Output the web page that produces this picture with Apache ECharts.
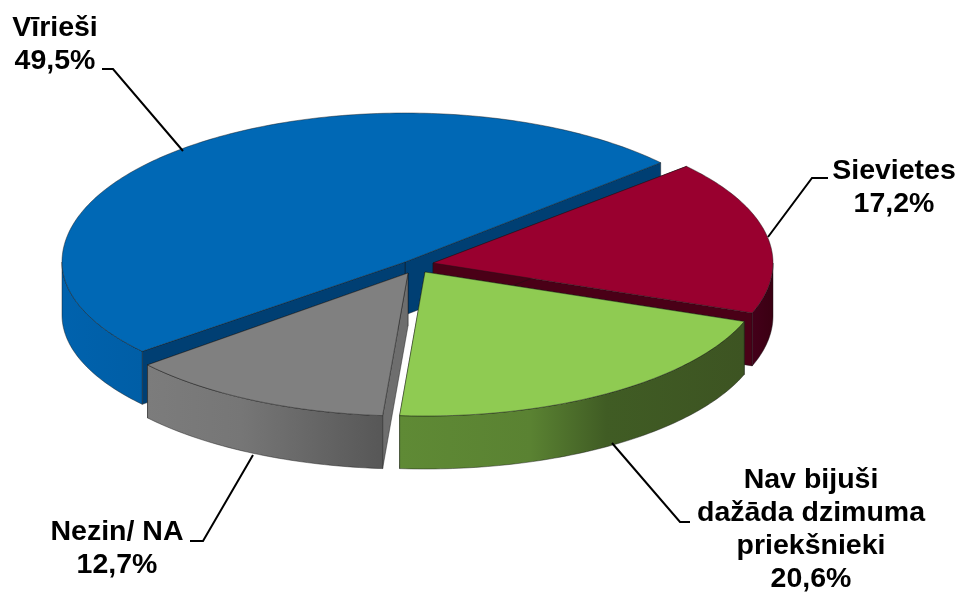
<!DOCTYPE html>
<html><head><meta charset="utf-8">
<style>html,body{margin:0;padding:0;background:#fff}#c{width:965px;height:594px}</style>
<script src="https://cdn.jsdelivr.net/npm/echarts@6/dist/echarts.min.js"></script>
</head><body><div id="c"></div>
<script>
const categories = ['Vīrieši', 'Sievietes', 'Nav bijuši\ndažāda dzimuma\npriekšnieki', 'Nezin/ NA'];
const shares = [49.5, 17.2, 20.6, 12.7];

// Pseudo-3D layout of the pie
const START_DEG = 220;
const DEPTH = 53;
const CENTERS = [[405, 262], [433, 263], [425, 272], [408, 273]];
// [horizontal radius, back vertical radius, front vertical radius]
const RADII = [[343, 149, 139], [340, 145, 145], [340, 144, 144], [340, 143, 143]];
const TOP_COLORS = ['#0068b5', '#99002f', '#8fcb52', '#808080'];
const CUT_COLORS = ['#003f73', '#4a0017', '#5f8a35', '#6e6e6e'];
const WALL_STOPS = [
  [[0, '#0062ad'], [1, '#005ea6']],
  [[0, '#44001a'], [1, '#3a0012']],
  [[0, '#5f8a35'], [0.38, '#5a8232'], [0.6, '#405c24'], [1, '#3d5422']],
  [[0, '#7c7c7c'], [0.4, '#767676'], [1, '#575757']]
];
const LABEL_POS = [[55, 45], [894, 188], [811, 530], [117, 549]];
const LEADERS = [
  [[102, 69], [113, 69], [183, 151]],
  [[828, 178], [812, 178], [768, 237]],
  [[612, 443], [680, 522], [690, 522]],
  [[253, 455], [203, 541], [190, 541]]
];

const EDGE = 'rgba(20,20,20,0.55)';

function arcPoints(i, from, to, dy) {
  const pts = [], c = CENTERS[i], r = RADII[i];
  const n = Math.max(2, Math.ceil(Math.abs(to - from)));
  for (let k = 0; k <= n; k++) {
    const t = (from + (to - from) * k / n) * Math.PI / 180;
    const s = Math.sin(t);
    pts.push([c[0] + r[0] * Math.cos(t), c[1] - (s >= 0 ? r[1] : r[2]) * s + dy]);
  }
  return pts;
}

function sliceAngles(i) {
  const total = shares.reduce((a, b) => a + b, 0);
  let before = 0;
  for (let k = 0; k < i; k++) before += shares[k];
  const hi = START_DEG - before / total * 360;           // clockwise on screen
  return [hi - shares[i] / total * 360, hi];
}

function renderSlice(params) {
  const i = params.dataIndex;
  const [a0, a1] = sliceAngles(i);
  const c = CENTERS[i];
  const children = [];
  const poly = (points, fill, stroke) => children.push({
    type: 'polygon', shape: { points },
    style: { fill, stroke: stroke || EDGE, lineWidth: 0.8 }, silent: true
  });

  // cut faces
  [a0, a1].forEach(function (a) {
    const p = arcPoints(i, a, a, 0)[0];
    poly([c, p, [p[0], p[1] + DEPTH], [c[0], c[1] + DEPTH]], CUT_COLORS[i]);
  });

  // outer wall: only the part of the rim that faces the viewer (180..360 deg, modulo 360)
  for (let base = -720; base <= 720; base += 360) {
    const from = Math.max(a0, base + 180), to = Math.min(a1, base + 360);
    if (to > from) {
      const top = arcPoints(i, from, to, 0), bottom = arcPoints(i, to, from, DEPTH);
      poly(top.concat(bottom), new echarts.graphic.LinearGradient(0, 0, 1, 0,
        WALL_STOPS[i].map(s => ({ offset: s[0], color: s[1] }))));
    }
  }

  // top face
  poly([c].concat(arcPoints(i, a0, a1, 0)), TOP_COLORS[i]);

  // leader
  children.push({
    type: 'polyline', shape: { points: LEADERS[i] },
    style: { stroke: '#000', lineWidth: 2, fill: null }, silent: true
  });

  // label
  const pct = shares[i].toFixed(1).replace('.', ',') + '%';
  children.push({
    type: 'text', x: LABEL_POS[i][0], y: LABEL_POS[i][1], silent: true,
    style: {
      text: categories[i] + '\n' + pct,
      fontFamily: '"Liberation Sans", Arial, sans-serif', fontWeight: 'bold', fontSize: 28.5,
      lineHeight: 33, fill: '#000', align: 'center', verticalAlign: 'middle'
    }
  });
  return { type: 'group', children };
}

const chart = echarts.init(document.getElementById('c'), null, { renderer: 'canvas' });
chart.setOption({
  animation: false,
  backgroundColor: '#fff',
  series: [{
    type: 'custom',
    coordinateSystem: 'none',
    silent: true,
    renderItem: renderSlice,
    data: shares.map((v, i) => ({ name: categories[i], value: v }))
  }]
});
</script></body></html>
